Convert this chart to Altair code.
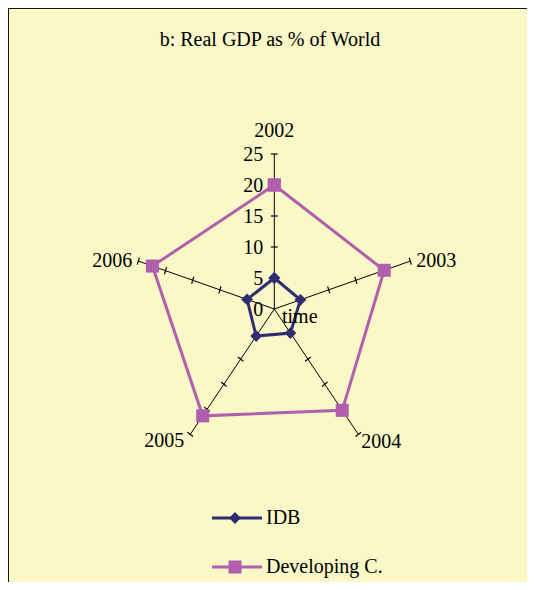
import altair as alt
import pandas as pd

# ---- data ----
years = ["2002", "2003", "2004", "2005", "2006"]
idb = [5.0, 4.8, 4.8, 5.4, 5.0]
developing = [20.0, 20.2, 20.2, 21.3, 22.4]
series_names = ["IDB", "Developing C."]
tick_values = [0, 5, 10, 15, 20, 25]
axis_max = 25
title_text = ["b: Real GDP as % of World"]
radial_title = ["time"]

# ---- styling ----
W, H = 519, 574
BG = "#FBF8C8"
IDB_C = "#2F2C72"
DEV_C = "#B05FAC"
FONT = "Liberation Serif"

# centre of the radar in chart pixels and pixel-per-unit scales
CX, CY = 266.3, 301.0
KX, KY = 5.72, 6.2
xs = alt.Scale(domain=[-CX / KX, (W - CX) / KX], nice=False, zero=False)
ys = alt.Scale(domain=[-(H - CY) / KY, CY / KY], nice=False, zero=False)

ANG = "datum.idx * 2 * PI / 5"

def series_df(name, vals):
    closed = vals + vals[:1]
    return pd.DataFrame({"series": name, "idx": list(range(len(closed))), "value": closed})

df_idb = series_df("IDB", idb)
df_dev = series_df("Developing C.", developing)

def polar(chart):
    return chart.transform_calculate(
        theta=ANG,
    ).transform_calculate(
        px="datum.value * sin(datum.theta)",
        py="datum.value * cos(datum.theta)",
    )

X = alt.X("px:Q", scale=xs, axis=None)
Y = alt.Y("py:Q", scale=ys, axis=None)

# spokes
df_spokes = pd.DataFrame({"year": years, "idx": list(range(len(years)))})
spokes = alt.Chart(df_spokes).transform_calculate(
    theta=ANG
).transform_calculate(
    x0="0", y0="0",
    ex=f"{axis_max} * sin(datum.theta)",
    ey=f"{axis_max} * cos(datum.theta)",
).mark_rule(color="black", strokeWidth=1).encode(
    x=alt.X("x0:Q", scale=xs, axis=None),
    y=alt.Y("y0:Q", scale=ys, axis=None),
    x2="ex:Q", y2="ey:Q",
)

# tick marks on spokes
tick_rows = [{"idx": i, "v": v} for i in range(len(years)) for v in tick_values if v > 0]
df_ticks = pd.DataFrame(tick_rows)
HL = 0.6
ticks = alt.Chart(df_ticks).transform_calculate(
    theta=ANG
).transform_calculate(
    tx1=f"datum.v * sin(datum.theta) + {HL} * cos(datum.theta)",
    ty1=f"datum.v * cos(datum.theta) - {HL} * sin(datum.theta)",
    tx2=f"datum.v * sin(datum.theta) - {HL} * cos(datum.theta)",
    ty2=f"datum.v * cos(datum.theta) + {HL} * sin(datum.theta)",
).mark_rule(color="black", strokeWidth=1.2).encode(
    x=alt.X("tx1:Q", scale=xs, axis=None),
    y=alt.Y("ty1:Q", scale=ys, axis=None),
    x2="tx2:Q", y2="ty2:Q",
)

# tick labels on the 2002 spoke
df_tl = pd.DataFrame({"v": tick_values})
tick_labels = alt.Chart(df_tl).transform_calculate(
    x0="0", lab="'' + datum.v"
).mark_text(align="right", baseline="middle", dx=-11, dy=1, font=FONT, fontSize=20, color="black").encode(
    x=alt.X("x0:Q", scale=xs, axis=None),
    y=alt.Y("v:Q", scale=ys, axis=None),
    text="lab:N",
)

# category labels
def cat_label(year, align, dx, dy):
    i = years.index(year)
    d = pd.DataFrame({"year": [year], "idx": [i]})
    return alt.Chart(d).transform_calculate(
        theta=ANG
    ).transform_calculate(
        ex=f"{axis_max} * sin(datum.theta)",
        ey=f"{axis_max} * cos(datum.theta)",
    ).mark_text(align=align, baseline="middle", dx=dx, dy=dy, font=FONT, fontSize=20, color="black").encode(
        x=alt.X("ex:Q", scale=xs, axis=None),
        y=alt.Y("ey:Q", scale=ys, axis=None),
        text="year:N",
    )

cat_labels = [
    cat_label("2002", "center", 0, -23),
    cat_label("2003", "left", 6, 0),
    cat_label("2004", "left", 3, 8),
    cat_label("2005", "right", -6, 7),
    cat_label("2006", "right", -6, 0),
]

# series lines & markers
dev_line = polar(alt.Chart(df_dev)).mark_line(color=DEV_C, strokeWidth=3).encode(x=X, y=Y, order="idx:Q")
dev_pts = polar(alt.Chart(df_dev)).mark_point(shape="square", filled=True, size=170, color=DEV_C, opacity=1).encode(x=X, y=Y)
idb_line = polar(alt.Chart(df_idb)).mark_line(color=IDB_C, strokeWidth=3).encode(x=X, y=Y, order="idx:Q")
idb_pts = polar(alt.Chart(df_idb)).mark_point(shape="diamond", filled=True, size=140, color=IDB_C, opacity=1).encode(x=X, y=Y)

# texts
title = alt.Chart(pd.DataFrame({"t": title_text})).mark_text(
    align="center", baseline="middle", font=FONT, fontSize=20, color="black"
).encode(x=alt.value(262), y=alt.value(32), text="t:N")

time_lbl = alt.Chart(pd.DataFrame({"t": radial_title})).mark_text(
    align="left", baseline="middle", font=FONT, fontSize=20, color="black"
).encode(x=alt.value(274), y=alt.value(309), text="t:N")

# legend
def legend_entry(name, color, shape, size, yv):
    d = pd.DataFrame({"s": [name]})
    base = alt.Chart(d)
    line = base.mark_rule(color=color, strokeWidth=3).encode(
        x=alt.value(204), x2=alt.value(254), y=alt.value(yv))
    pt = base.mark_point(shape=shape, filled=True, size=size, color=color, opacity=1).encode(
        x=alt.value(227), y=alt.value(yv))
    txt = base.mark_text(align="left", baseline="middle", font=FONT, fontSize=20, color="black").encode(
        x=alt.value(258), y=alt.value(yv), text="s:N")
    return [line, pt, txt]

legend = legend_entry(series_names[0], IDB_C, "diamond", 140, 510) + \
         legend_entry(series_names[1], DEV_C, "square", 170, 559)

# frame (left and top dark border)
frame_d = pd.DataFrame({"k": [0]})
frame_left = alt.Chart(frame_d).mark_rule(color="#111111", strokeWidth=2).encode(
    x=alt.value(0), y=alt.value(0), y2=alt.value(H))
frame_top = alt.Chart(frame_d).mark_rule(color="#111111", strokeWidth=2).encode(
    x=alt.value(0), x2=alt.value(W), y=alt.value(0))

chart = alt.layer(
    spokes, ticks, tick_labels, *cat_labels,
    dev_line, dev_pts, idb_line, idb_pts,
    title, time_lbl, *legend, frame_left, frame_top,
).properties(
    width=W, height=H, padding=0,
    autosize=alt.AutoSizeParams(type="none"),
    background=BG,
).configure_view(stroke=None)

chart.save("out.html", embed_options={"renderer": "svg", "actions": False})
